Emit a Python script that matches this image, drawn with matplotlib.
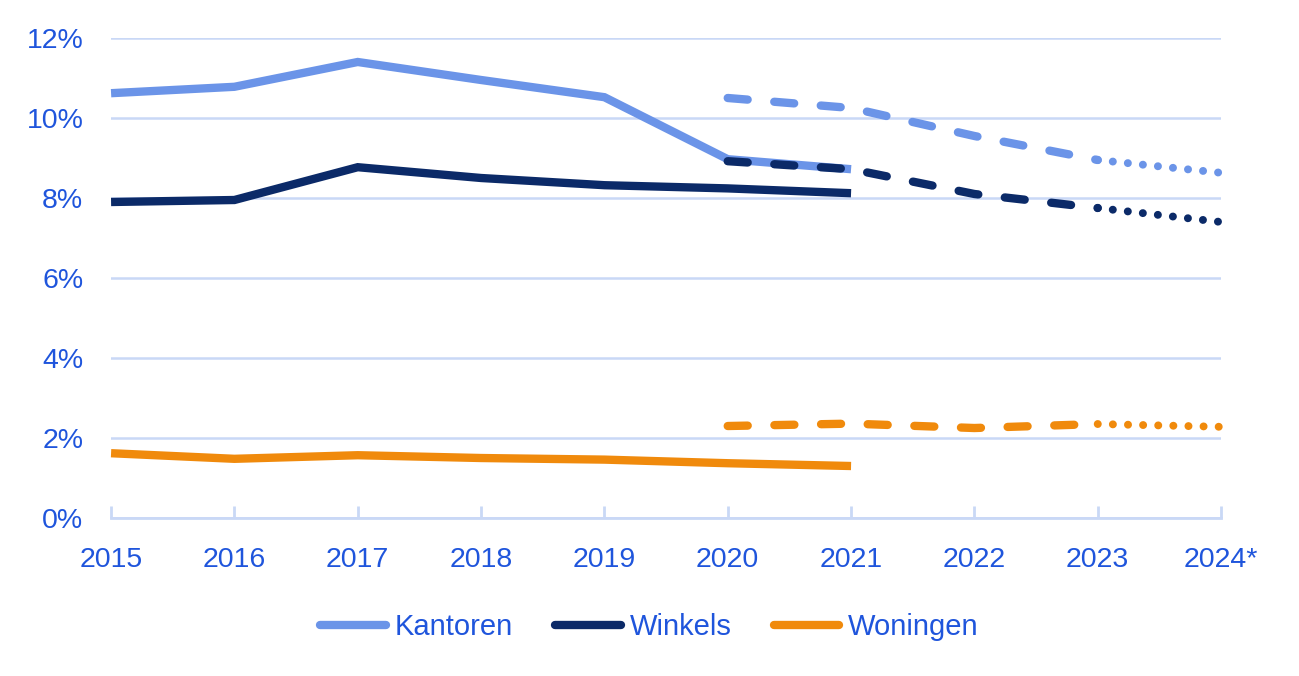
import matplotlib.pyplot as plt

years = [2015, 2016, 2017, 2018, 2019, 2020, 2021, 2022, 2023, 2024]
year_labels = ['2015', '2016', '2017', '2018', '2019', '2020', '2021', '2022', '2023', '2024*']

# realised (solid)
kantoren = [10.62, 10.78, 11.40, 10.95, 10.52, 8.97, 8.72]
winkels = [7.90, 7.95, 8.77, 8.50, 8.32, 8.24, 8.12]
woningen = [1.62, 1.48, 1.57, 1.50, 1.46, 1.37, 1.30]

# forecast (dashed 2020-2023, dotted 2023-2024)
kantoren_fc = [10.50, 10.25, 9.55, 8.95, 8.63]
winkels_fc = [8.92, 8.72, 8.10, 7.75, 7.40]
woningen_fc = [2.30, 2.36, 2.25, 2.35, 2.28]

c_kant = '#6b94e8'
c_wink = '#0b2a68'
c_won = '#f08a0c'
c_text = '#1f55dc'
c_grid = '#c9d8f6'

lw = 6.0

plt.rcParams['font.family'] = ['Liberation Sans', 'DejaVu Sans']

fig = plt.figure(figsize=(12.99, 6.76), dpi=100)
ax = fig.add_axes([0.0855, 0.2337, 0.8545, 0.7101])

for vals, fc, col in [(kantoren, kantoren_fc, c_kant),
                      (winkels, winkels_fc, c_wink),
                      (woningen, woningen_fc, c_won)]:
    ax.plot(years[:len(vals)], vals, color=col, lw=lw, solid_capstyle='butt',
            solid_joinstyle='miter', clip_on=False, zorder=3)
    fy = years[5:]
    ax.plot(fy[:4], fc[:4], color=col, lw=lw, dashes=(2.4, 3.2),
            dash_capstyle='round', clip_on=False, zorder=4)
    ax.plot(fy[3:], fc[3:], color=col, lw=lw * 0.95, dashes=(0.01, 1.9),
            dash_capstyle='round', clip_on=False, zorder=4)

ax.set_xlim(2015, 2024)
ax.set_ylim(0, 12)
ax.set_yticks(range(0, 13, 2))
ax.set_yticklabels([f'{v}%' for v in range(0, 13, 2)])
ax.set_xticks(years)
ax.set_xticklabels(year_labels)

ax.grid(axis='y', color=c_grid, lw=1.8, zorder=0)
for s in ['top', 'right', 'left']:
    ax.spines[s].set_visible(False)
ax.spines['bottom'].set_color(c_grid)
ax.spines['bottom'].set_linewidth(2)
ax.tick_params(axis='x', direction='in', length=9, width=2, color=c_grid,
               labelsize=20.5, labelcolor=c_text, pad=21)
ax.tick_params(axis='y', length=0, labelsize=20.5, labelcolor=c_text, pad=20)

handles = [plt.Line2D([], [], color=c, lw=lw, solid_capstyle='round')
           for c in (c_kant, c_wink, c_won)]
leg = fig.legend(handles, ['Kantoren', 'Winkels', 'Woningen'], loc='center',
                 bbox_to_anchor=(0.5, 0.072), ncol=3, frameon=False,
                 handlelength=2.25, handletextpad=0.3, columnspacing=1.45,
                 prop={'size': 21})
for t in leg.get_texts():
    t.set_color(c_text)

fig.savefig('out.png', dpi=100)
